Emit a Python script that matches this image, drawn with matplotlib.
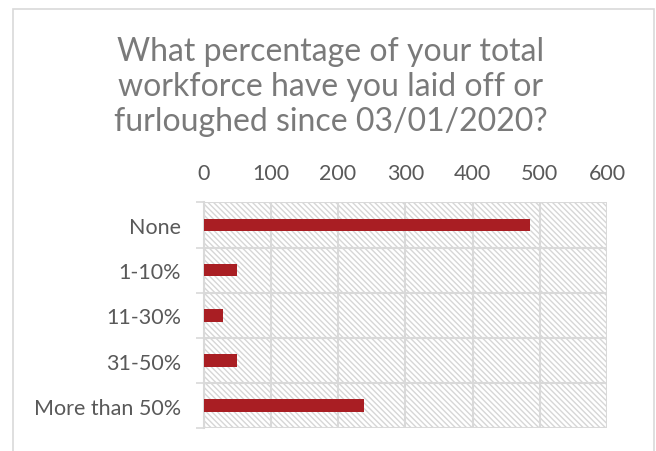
import matplotlib
matplotlib.use("Agg")
import matplotlib.pyplot as plt
from matplotlib.patches import Rectangle

categories = ["None", "1-10%", "11-30%", "31-50%", "More than 50%"]
values = [486, 50, 29, 50, 238]
x_ticks = [0, 100, 200, 300, 400, 500, 600]
title = "What percentage of your total\nworkforce have you laid off or\nfurloughed since 03/01/2020?"

TEXT = "#595959"
TITLE = "#7a7a7a"
GRID = "#d9d9d9"
BAR = "#a91e23"

plt.rcParams["font.family"] = ["Lato", "DejaVu Sans"]
plt.rcParams["hatch.color"] = "#d6d6d6"
plt.rcParams["hatch.linewidth"] = 1.0

W, H = 656, 452
fig = plt.figure(figsize=(W / 100, H / 100), dpi=100)

# chart frame
fig.patches.append(Rectangle((13 / W, -0.05), (654 - 13) / W, 1.05 - 10 / H,
                             transform=fig.transFigure, fill=False,
                             edgecolor=GRID, linewidth=1.2))

left, right = 203.5 / W, 607 / W
top, bottom = 1 - 203.3 / H, 1 - 429.3 / H
ax = fig.add_axes([left, bottom, right - left, top - bottom])

# hatched plot area
ax.add_patch(Rectangle((0, 0), 1, 1, transform=ax.transAxes, facecolor="white",
                       hatch="\\" * 6, edgecolor="#d6d6d6", linewidth=0, zorder=0))

n = len(categories)
ypos = list(range(n))
ax.barh(ypos, values, height=0.28, color=BAR, zorder=3)

ax.set_xlim(0, 600)
ax.set_ylim(n - 0.5, -0.5)
ax.xaxis.tick_top()
ax.set_xticks(x_ticks)
ax.set_xticklabels([str(t) for t in x_ticks])
ax.tick_params(axis="x", length=0, pad=14, labelsize=15.5, labelcolor=TEXT)

ax.set_yticks(ypos)
ax.set_yticklabels(categories)
ax.set_yticks([i - 0.5 for i in range(n + 1)], minor=True)
ax.tick_params(axis="y", which="major", length=0, pad=16, labelsize=15.5, labelcolor=TEXT)
ax.tick_params(axis="y", which="minor", length=6, width=1.2, color=GRID)

ax.grid(axis="x", which="major", color=GRID, linewidth=1.5, zorder=1)
ax.grid(axis="y", which="minor", color=GRID, linewidth=1.5, zorder=1)
ax.set_axisbelow(True)
for s in ax.spines.values():
    s.set_color(GRID)
    s.set_linewidth(1.5)
ax.spines["top"].set_visible(False)
ax.spines["right"].set_visible(False)
ax.spines["bottom"].set_visible(False)

fig.text(331 / W, 1 - 87 / H, title, ha="center", va="center", fontsize=23,
         color=TITLE, linespacing=1.2)

fig.savefig("out.png", dpi=100)
